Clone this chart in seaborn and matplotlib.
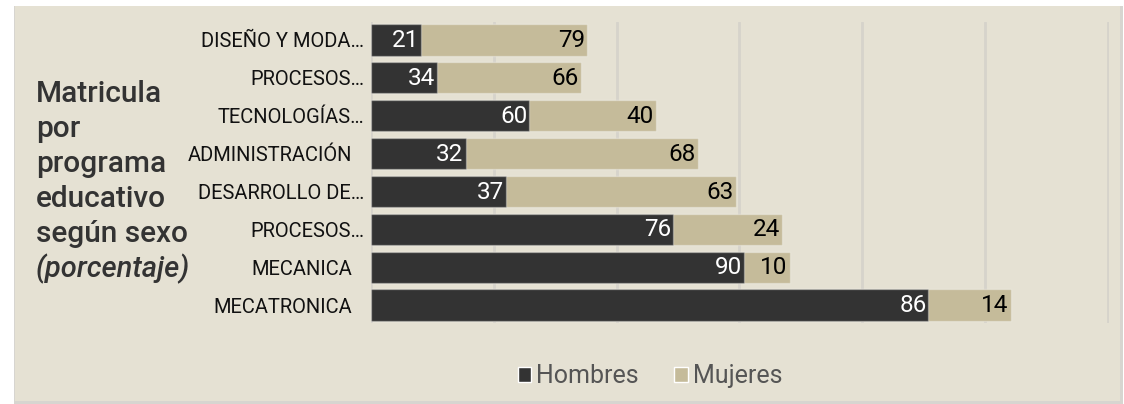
import numpy as np
import pandas as pd
import seaborn as sns
import matplotlib.pyplot as plt
import matplotlib.transforms as mtransforms
from matplotlib.patches import Rectangle, Patch

# datos (longitud de barra = matricula, etiqueta = porcentaje)
programas = ["DISEÑO Y MODA…", "PROCESOS…", "TECNOLOGÍAS…", "ADMINISTRACIÓN",
             "DESARROLLO DE…", "PROCESOS…", "MECANICA", "MECATRONICA"]
hombres = [41, 54, 129, 77, 110, 246, 304, 454]
mujeres = [135, 117, 103, 189, 187, 89, 37, 67]
pct_hombres = [21, 34, 60, 32, 37, 76, 90, 86]
pct_mujeres = [79, 66, 40, 68, 63, 24, 10, 14]

COL_H = "#333333"
COL_M = "#C5BB9A"
FONDO = "#E5E1D3"

df = pd.DataFrame({"id": [str(i) for i in range(len(programas))],
                   "programa": programas,
                   "Hombres": hombres,
                   "Mujeres": mujeres})
df["total"] = df["Hombres"] + df["Mujeres"]

sns.set_theme(style="white")
plt.rcParams["font.family"] = ["Roboto", "DejaVu Sans"]

W, H = 1124, 404
fig = plt.figure(figsize=(W / 100, H / 100), dpi=100)
fig.patch.set_facecolor("white")

# panel beige con sombra
fig.patches.append(Rectangle((14 / W, 1 - 404 / H), 1109 / W, 398 / H,
                             transform=fig.transFigure, facecolor="#BDBAB2",
                             edgecolor="none", alpha=0.6, zorder=-10))
fig.patches.append(Rectangle((15 / W, 1 - 401 / H), 1105 / W, 395 / H,
                             transform=fig.transFigure, facecolor=FONDO,
                             edgecolor="none", zorder=-9))

ax = fig.add_axes([371 / W, 1 - 323 / H, (1109 - 371) / W, (323 - 22) / H])
ax.set_facecolor("none")

sns.barplot(data=df, x="total", y="id", color=COL_M, saturation=1, width=0.82,
            errorbar=None, edgecolor=(1, 1, 1, 0.3), linewidth=1, ax=ax)
sns.barplot(data=df, x="Hombres", y="id", color=COL_H, saturation=1, width=0.82,
            errorbar=None, edgecolor=(1, 1, 1, 0.3), linewidth=1, ax=ax)

for i, row in df.iterrows():
    ax.annotate(str(pct_hombres[i]), (row["Hombres"], i), xytext=(-1.5, -0.5),
                textcoords="offset points", ha="right", va="center",
                color="white", fontsize=17.5)
    ax.annotate(str(pct_mujeres[i]), (row["total"], i), xytext=(-1.5, -0.5),
                textcoords="offset points", ha="right", va="center",
                color="black", fontsize=17.5)

ax.set_xlim(0, 601)
ax.set_ylim(7.475, -0.475)
ax.set_xticks(np.arange(0, 601, 100))
ax.set_xticklabels([])
ax.set_yticks(range(len(programas)))
ax.set_yticklabels(programas, fontsize=14.5, color="#111111")
ax.tick_params(axis="both", length=0)
ax.tick_params(axis="y", pad=5)
# las etiquetas sin puntos suspensivos quedan un poco mas a la izquierda
for lab in ax.get_yticklabels():
    if not lab.get_text().endswith("…"):
        lab.set_transform(lab.get_transform() +
                          mtransforms.ScaledTranslation(-12 / 100, 0, fig.dpi_scale_trans))
ax.set_xlabel("")
ax.set_ylabel("")
ax.grid(axis="x", color="#D6D3CB", linewidth=2)
ax.set_axisbelow(True)
sns.despine(ax=ax, left=True, bottom=True)

# titulo a la izquierda
lineas = ["Matricula", "por", "programa", "educativo", "según sexo"]
bases = [102, 137, 172, 207, 242]
for txt, yb in zip(lineas, bases):
    fig.text(36 / W, 1 - yb / H, txt, fontsize=21.5, fontweight="medium",
             color="#333333", va="baseline", ha="left")
fig.text(36 / W, 1 - 277 / H, "(porcentaje)", fontsize=21, fontweight="medium",
         fontstyle="italic", color="#333333", va="baseline", ha="left")

handles = [Patch(facecolor=COL_H), Patch(facecolor=COL_M)]
fig.legend(handles, ["Hombres", "Mujeres"], loc="center",
           bbox_to_anchor=(650 / W, 1 - 376 / H), ncol=2, frameon=False,
           fontsize=18, handlelength=0.55, handleheight=0.55, handletextpad=0.2,
           columnspacing=1.4, labelcolor="#555555")

fig.savefig("out.png", dpi=100, facecolor="white")
